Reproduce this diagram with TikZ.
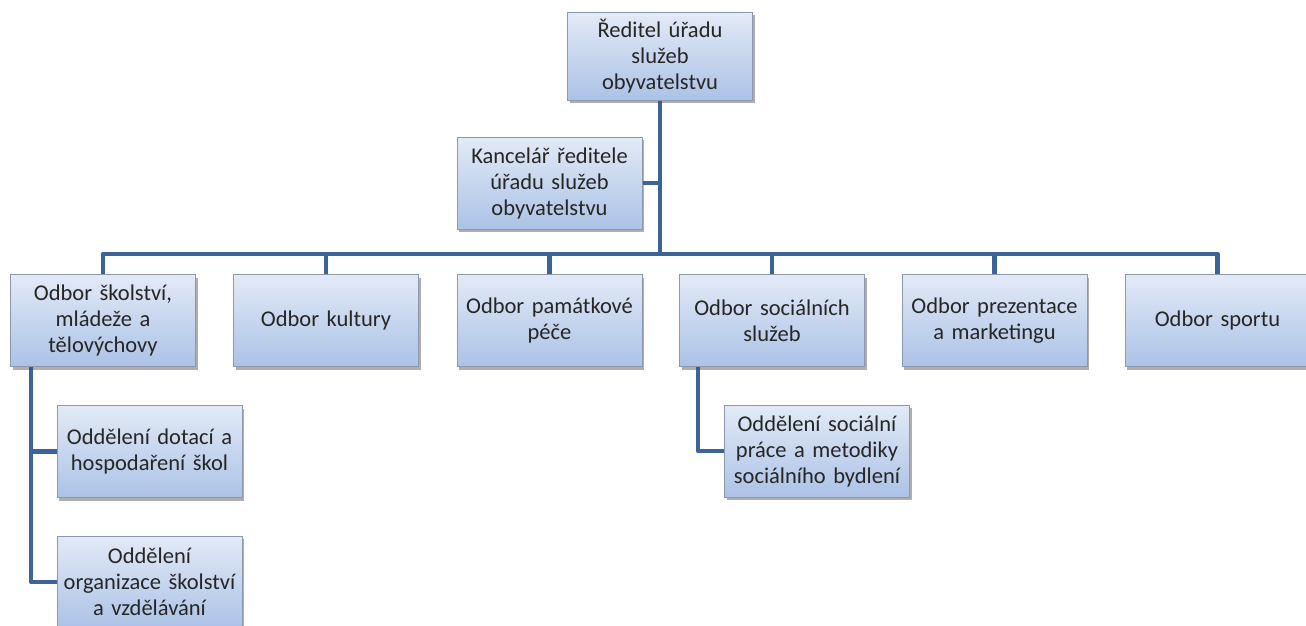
\documentclass[tikz,border=0pt]{standalone}
\usepackage{fontspec}
\setmainfont{Carlito}
\usetikzlibrary{shadows,backgrounds}
\definecolor{linkblue}{RGB}{60,100,152}
\definecolor{boxtop}{RGB}{226,234,246}
\definecolor{boxbot}{RGB}{172,194,230}
\definecolor{boxedge}{RGB}{140,152,175}
\definecolor{boxtext}{RGB}{38,38,38}
\begin{document}
\begin{tikzpicture}[x=1pt,y=-1pt,
  orgbox/.style={rectangle, draw=boxedge, line width=0.8pt,
    top color=boxtop, bottom color=boxbot,
    minimum width=185pt, minimum height=92pt, text width=180pt,
    align=center, inner sep=2pt, text=boxtext,
    font=\fontsize{22.5}{26}\selectfont,
    drop shadow={shadow xshift=2pt, shadow yshift=-3pt, opacity=0.45, fill=black!70}},
  link/.style={draw=linkblue, line width=4.5pt, line join=round}]
\useasboundingbox (0,0) rectangle (1306,625);

% junction points of the tree
\coordinate (bus) at (660,254);
\coordinate (busL) at (103,254);
\coordinate (busR) at (1217.5,254);
\coordinate (kj) at (660,183);
\coordinate (l1) at (31,367);
\coordinate (l4) at (698,367);

% boxes
\node[orgbox, minimum height=88pt] (dir) at (660,56) {Ředitel úřadu\\služeb\\obyvatelstvu};
\node[orgbox] (kanc) at (549.5,183) {Kancelář ředitele\\úřadu služeb\\obyvatelstvu};
\node[orgbox] (o1) at (103,320.5) {Odbor školství,\\mládeže a\\tělovýchovy};
\node[orgbox] (o2) at (326,320.5) {Odbor kultury};
\node[orgbox] (o3) at (549.5,320.5) {Odbor památkové\\péče};
\node[orgbox] (o4) at (772,320.5) {Odbor sociálních\\služeb};
\node[orgbox] (o5) at (994.5,320.5) {Odbor prezentace\\a marketingu};
\node[orgbox] (o6) at (1217.5,320.5) {Odbor sportu};
\node[orgbox] (s1) at (149.5,451.5) {Oddělení dotací a\\hospodaření škol};
\node[orgbox] (s2) at (149.5,582) {Oddělení\\organizace školství\\a vzdělávání};
\node[orgbox] (s4) at (817,451) {Oddělení sociální\\práce a metodiky\\sociálního bydlení};

% tree lines, kept behind the boxes
\begin{scope}[on background layer]
\draw[link] (dir.south) -- (bus);
\draw[link] (kanc.east) -- (kj);
\draw[link] (busL |- o1.north) -- (busL) -- (busR) -- (busR |- o6.north);
\draw[link] (bus -| o2.north) -- (o2.north);
\draw[link] (bus -| o3.north) -- (o3.north);
\draw[link] (bus -| o4.north) -- (o4.north);
\draw[link] (bus -| o5.north) -- (o5.north);
\draw[link] (l1 |- o1.south) -- (l1 |- s2.west) -- (s2.west);
\draw[link] (l1 |- s1.west) -- (s1.west);
\draw[link] (l4 |- o4.south) -- (l4 |- s4.west) -- (s4.west);
\end{scope}
\end{tikzpicture}
\end{document}
